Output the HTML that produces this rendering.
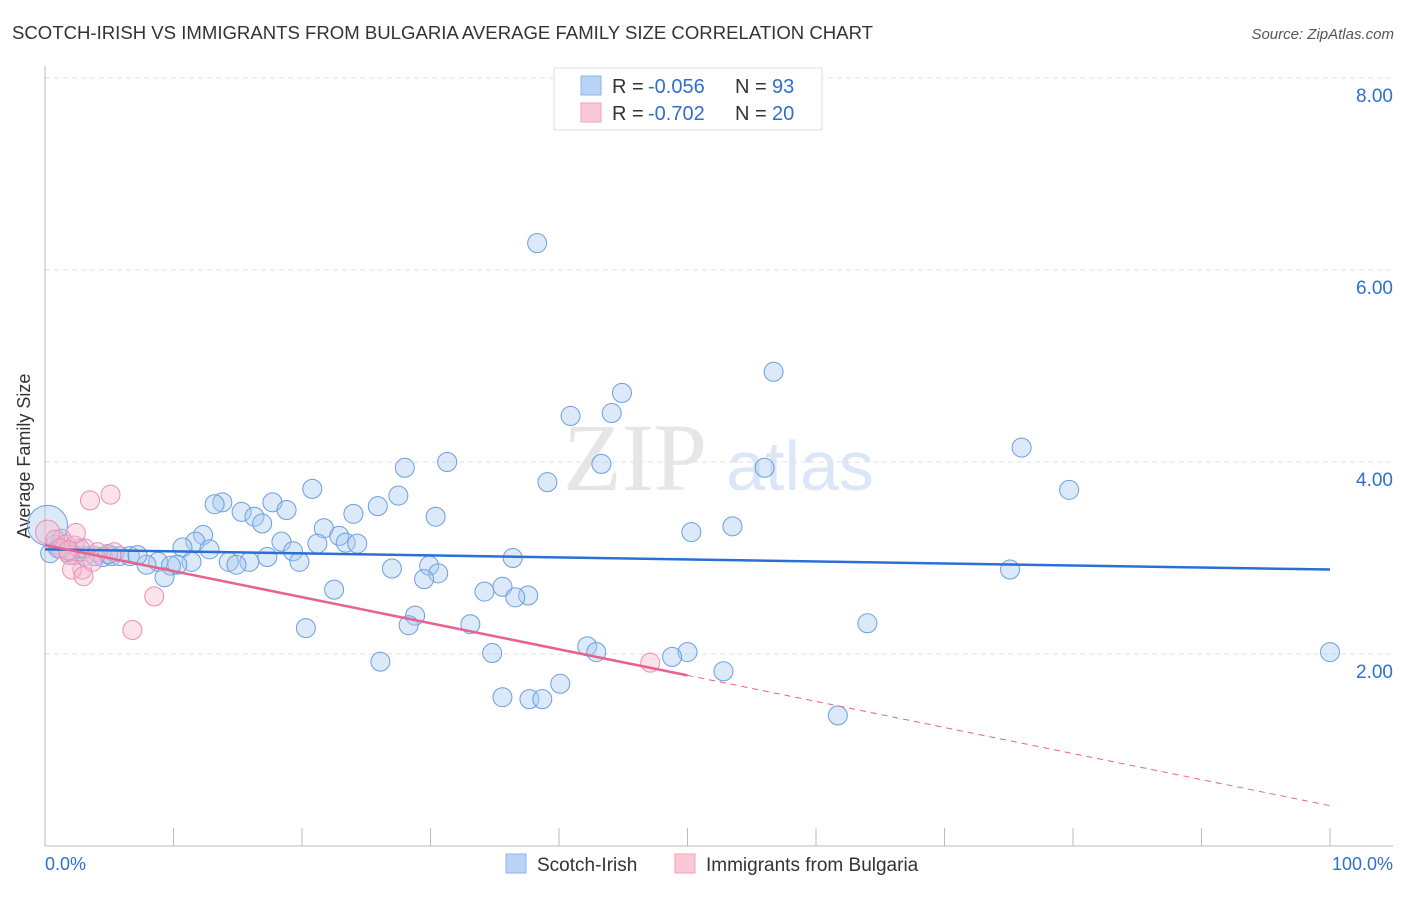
<!DOCTYPE html>
<html><head><meta charset="utf-8"><style>
body{margin:0;background:#fff;font-family:"Liberation Sans",sans-serif}
</style></head><body>
<svg id="c" width="1406" height="892" xmlns="http://www.w3.org/2000/svg">
<text x="12" y="39" font-size="18" fill="#333" textLength="861" lengthAdjust="spacingAndGlyphs">SCOTCH-IRISH VS IMMIGRANTS FROM BULGARIA AVERAGE FAMILY SIZE CORRELATION CHART</text>
<text x="1394" y="39" font-size="15" fill="#555" font-style="italic" text-anchor="end">Source: ZipAtlas.com</text>
<text x="30" y="456" font-size="18" fill="#333" text-anchor="middle" transform="rotate(-90 30 456)">Average Family Size</text>
<text x="635" y="490" font-size="96" fill="#e6e6e6" font-family="Liberation Serif" text-anchor="middle">ZIP</text>
<text x="800" y="490" font-size="70" fill="#dbe7f6" text-anchor="middle">atlas</text>
<g id="grid"></g><g id="marks"></g>
<g>
<rect x="554" y="68" width="268" height="62" fill="#fff" stroke="#ddd"/>
<rect x="581" y="76" width="20" height="19" fill="#b8d3f5" stroke="#8fb5e8"/>
<rect x="581" y="103" width="20" height="19" fill="#fbc9d6" stroke="#f0a0b8"/>
<text x="612" y="93" font-size="20" fill="#333">R =</text>
<text x="648" y="93" font-size="20" fill="#2f6fce">-0.056</text>
<text x="735" y="93" font-size="20" fill="#333">N =</text>
<text x="772" y="93" font-size="20" fill="#2f6fce">93</text>
<text x="612" y="120" font-size="20" fill="#333">R =</text>
<text x="648" y="120" font-size="20" fill="#2f6fce">-0.702</text>
<text x="735" y="120" font-size="20" fill="#333">N =</text>
<text x="772" y="120" font-size="20" fill="#2f6fce">20</text>
</g>
<g>
<rect x="506" y="854" width="20" height="19" fill="#b8d3f5" stroke="#8fb5e8"/>
<text x="537" y="871" font-size="19" fill="#333">Scotch-Irish</text>
<rect x="675" y="854" width="20" height="19" fill="#fbc9d6" stroke="#f0a0b8"/>
<text x="706" y="871" font-size="19" fill="#333">Immigrants from Bulgaria</text>
</g>
<text x="45" y="870" font-size="18" fill="#2f6fce">0.0%</text>
<text x="1393" y="870" font-size="18" fill="#2f6fce" text-anchor="end">100.0%</text>
</svg>
<script>
const yTicks=[2,4,6,8];
const yTickLabels=["2.00","4.00","6.00","8.00"];
const blueX=[38.3,56.7,44.9,40.9,44.1,76.0,43.3,31.3,28.0,56.0,39.1,79.7,20.8,27.5,13.8,17.7,25.9,13.2,15.3,18.8,24.0,30.4,16.3,16.9,53.5,21.7,50.3,12.3,22.9,11.7,18.4,21.2,23.4,24.3,10.7,12.8,19.3,17.3,36.4,19.8,14.3,15.9,14.9,8.8,11.4,10.3,9.8,7.9,29.9,27.0,75.1,30.6,29.5,9.3,35.6,22.5,34.2,37.6,36.6,28.8,28.3,33.1,20.3,64.0,42.2,42.9,50.0,48.8,34.8,100,26.1,52.8,40.1,35.6,37.7,38.7,61.7,0.8,1.0,1.8,2.3,3.1,3.9,4.5,5.2,5.8,6.6,7.2,1.3,2.7,4.9,0.4,0.2];
const blueY=[6.28,4.94,4.72,4.48,4.51,4.15,3.98,4.0,3.94,3.94,3.79,3.71,3.72,3.65,3.58,3.58,3.54,3.56,3.48,3.5,3.46,3.43,3.43,3.36,3.33,3.31,3.27,3.24,3.23,3.17,3.17,3.15,3.16,3.15,3.11,3.09,3.07,3.01,3.0,2.96,2.96,2.96,2.93,2.96,2.96,2.93,2.92,2.93,2.92,2.89,2.88,2.84,2.78,2.8,2.7,2.67,2.65,2.61,2.59,2.4,2.3,2.31,2.27,2.32,2.08,2.02,2.02,1.97,2.01,2.02,1.92,1.82,1.69,1.55,1.53,1.53,1.36,3.14,3.1,3.06,3.03,3.02,3.02,3.01,3.02,3.02,3.02,3.03,3.2,3.1,3.04,3.05,3.34];
const pinkX=[0.2,0.8,1.6,2.3,3.1,1.9,3.5,5.1,2.4,2.9,2.1,3.0,8.5,6.8,47.1,5.4,4.1,1.2,3.7,1.8];
const pinkY=[3.27,3.19,3.14,3.13,3.1,3.03,3.6,3.66,3.26,2.88,2.88,2.81,2.6,2.25,1.91,3.06,3.06,3.1,2.96,3.08];
const blueLine=[3.09,2.88];
const pinkLine=[3.135,0.42];
const pinkSolidEnd=50;
const X=v=>45+v*12.85, Y=v=>846-v*96;
const NS="http://www.w3.org/2000/svg";
function mk(t,a,p){const e=document.createElementNS(NS,t);for(const k in a)e.setAttribute(k,a[k]);p.appendChild(e);return e;}
const g=document.getElementById('grid'),m=document.getElementById('marks');
yTicks.forEach((t,i)=>{
 const l=mk('line',{x1:45,x2:1393,y1:Y(t),y2:Y(t),stroke:'#e0e0e0','stroke-dasharray':'5 4'},g);
 
 
 const tx=mk('text',{x:1393,y:Y(t)+24,'font-size':19,fill:'#2f6fce','text-anchor':'end'},g);
 tx.textContent=yTickLabels[i];
 
 
});
const ax=mk('line',{x1:45,x2:45,y1:66,y2:846,stroke:'#bbb'},g);


const bx=mk('line',{x1:45,x2:1393,y1:846,y2:846,stroke:'#bbb'},g);


for(let i=1;i<=10;i++){const t=mk('line',{x1:X(i*10),x2:X(i*10),y1:828,y2:846,stroke:'#bbb'},g);
 
 }
blueX.forEach((x,i)=>{const c=mk('circle',{cx:X(x),cy:Y(blueY[i]),r:i==blueX.length-1?20:9.5,fill:'rgba(168,200,240,0.4)',stroke:'#6a9fe0','stroke-width':1},m);
 
 });
pinkX.forEach((x,i)=>{const c=mk('circle',{cx:X(x),cy:Y(pinkY[i]),r:i==0?12:9.5,fill:'rgba(248,185,205,0.4)',stroke:'#ee8fae','stroke-width':1},m);
 
 });
const bl=mk('line',{x1:X(0),y1:Y(blueLine[0]),x2:X(100),y2:Y(blueLine[1]),stroke:'#2a6fd6','stroke-width':2.5},m);


const pe=pinkLine[0]+(pinkLine[1]-pinkLine[0])*pinkSolidEnd/100;
const pl=mk('line',{x1:X(0),y1:Y(pinkLine[0]),x2:X(pinkSolidEnd),y2:Y(pe),stroke:'#e8628e','stroke-width':2.5},m);


const pd=mk('line',{x1:X(pinkSolidEnd),y1:Y(pe),x2:X(100),y2:Y(pinkLine[1]),stroke:'#e8628e','stroke-width':1,'stroke-dasharray':'6 5'},m);


</script>
</body></html>
